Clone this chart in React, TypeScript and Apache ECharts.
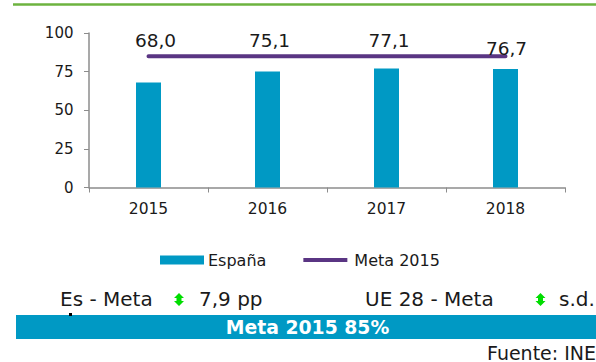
import React, { useEffect, useRef } from "react";
import * as echarts from "echarts";

const years = ["2015", "2016", "2017", "2018"];
const espana = [68.0, 75.1, 77.1, 76.7];
const meta = [85, 85, 85, 85];
const yTicks = [0, 25, 50, 75, 100];
const labelDx = [7, 2, 2.5, 1];
const labelDy = [-27, -16, -13, -6];
const FONT = "'DejaVu Sans', Verdana, sans-serif";

const ARROW = "M5 0 L10 5 L7.5 5 L7.5 8 L10 8 L5 13 L0 8 L2.5 8 L2.5 5 L0 5 Z";
echarts.graphic.registerShape("arrowUD", echarts.graphic.extendPath(ARROW, {}) as any);

export default function App() {
  const ref = useRef<HTMLDivElement>(null);
  useEffect(() => {
    const chart = echarts.init(ref.current!, null, { renderer: "svg" });
    const txt = (text: string, x: number, y: number, extra: any = {}) => ({
      type: "text",
      x,
      y,
      style: { text, fontFamily: FONT, fontSize: 20, fill: "#1a1a1a", textVerticalAlign: "middle", ...extra },
    });
    chart.setOption({
      animation: false,
      backgroundColor: "#fff",
      grid: { left: 89, right: 31, top: 33, bottom: 174.5, containLabel: false },
      legend: {
        left: 155,
        top: 247,
        itemGap: 37,
        itemWidth: 44,
        itemHeight: 9,
        textStyle: { fontFamily: FONT, fontSize: 16, color: "#1a1a1a", padding: [0, 0, 0, -1] },
        data: [
          { name: "España", icon: "rect" },
          {
            name: "Meta 2015",
            icon: "path://M0 0H44V4H0Z",
            textStyle: { fontFamily: FONT, fontSize: 16, color: "#1a1a1a", padding: [0, 0, 0, 2] },
          },
        ],
      },
      xAxis: {
        type: "category",
        data: years,
        axisLine: { lineStyle: { color: "#8c8c8c", width: 1.5 } },
        axisTick: { show: true, alignWithLabel: false, length: 5, lineStyle: { color: "#8c8c8c" } },
        axisLabel: { fontFamily: FONT, fontSize: 15.5, color: "#1a1a1a", margin: 13 },
      },
      yAxis: {
        type: "value",
        min: yTicks[0],
        max: yTicks[yTicks.length - 1],
        interval: 25,
        splitLine: { show: false },
        axisLine: { show: true, lineStyle: { color: "#8c8c8c", width: 1.5 } },
        axisTick: { show: true, length: 5, lineStyle: { color: "#8c8c8c" } },
        axisLabel: { fontFamily: FONT, fontSize: 15, color: "#1a1a1a", margin: 15.5 },
      },
      series: [
        {
          name: "España",
          type: "bar",
          data: espana,
          barWidth: 25,
          itemStyle: { color: "#0099c4" },
          label: {
            show: true,
            position: "top",
            fontFamily: FONT,
            fontSize: 18.5,
            color: "#1a1a1a",
            formatter: (p: any) => p.value.toFixed(1).replace(".", ","),
          },
          labelLayout: (p: any) => ({ dx: labelDx[p.dataIndex], dy: labelDy[p.dataIndex] }),
        },
        {
          name: "Meta 2015",
          type: "line",
          data: meta,
          symbol: "none",
          z: 1,
          itemStyle: { color: "#5a3583" },
          lineStyle: { color: "#5a3583", width: 4, cap: "round" },
        },
      ],
      graphic: [
        { type: "rect", shape: { x: 13, y: 3.2, width: 583, height: 2.5 }, style: { fill: "#6db33f" } },
        { type: "rect", shape: { x: 16, y: 315, width: 580, height: 24 }, style: { fill: "#0099c4" } },
        { type: "rect", shape: { x: 69, y: 313, width: 3, height: 3 }, style: { fill: "#000" } },
        txt("Es - Meta", 60, 298.5),
        txt("7,9 pp", 199, 298.5),
        txt("UE 28 - Meta", 365, 298.5),
        txt("s.d.", 559, 298.5),
        { type: "arrowUD", x: 174, y: 293, style: { fill: "#00dd00" } },
        { type: "arrowUD", x: 535.5, y: 293, style: { fill: "#00dd00" } },
        txt("Meta 2015 85%", 307.5, 327.5, { fill: "#fff", fontWeight: "bold", textAlign: "center", fontSize: 18.8 }),
        txt("Fuente: INE", 487, 352.5, { fontSize: 19 }),
      ],
    });
    return () => chart.dispose();
  }, []);
  return <div ref={ref} style={{ width: 596, height: 362, position: "absolute", left: 0, top: 0 }} />;
}
